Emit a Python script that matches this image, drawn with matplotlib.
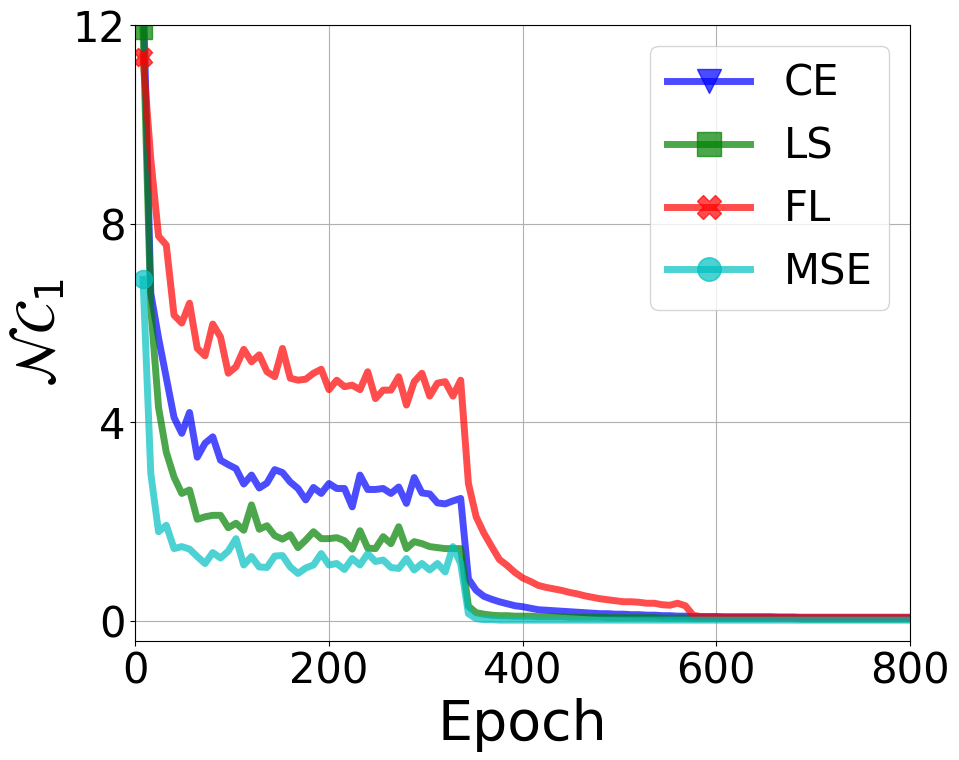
import numpy as np
import matplotlib
matplotlib.use("Agg")
import matplotlib.pyplot as plt

# epochs sampled every 8
epochs = np.arange(8, 808, 8)

ce = [12.8, 6.6, 5.7, 4.9, 4.1, 3.78, 4.2, 3.3, 3.58, 3.71,
      3.24, 3.15, 3.07, 2.76, 2.94, 2.68, 2.78, 3.05, 2.99, 2.80,
      2.67, 2.44, 2.69, 2.57, 2.77, 2.67, 2.67, 2.30, 2.94, 2.65,
      2.65, 2.67, 2.57, 2.70, 2.37, 2.89, 2.58, 2.56, 2.38, 2.36,
      2.42, 2.47, 0.85, 0.62, 0.50, 0.44, 0.39, 0.35, 0.31, 0.29,
      0.26, 0.23, 0.22, 0.21, 0.20, 0.19, 0.18, 0.17, 0.16, 0.15,
      0.15, 0.14, 0.14, 0.13, 0.13, 0.12, 0.12, 0.11, 0.11, 0.10,
      0.10, 0.09, 0.09, 0.09, 0.09, 0.08, 0.08, 0.08, 0.08, 0.08,
      0.08, 0.08, 0.08, 0.08, 0.08, 0.07, 0.07, 0.07, 0.07, 0.07,
      0.07, 0.07, 0.07, 0.07, 0.07, 0.07, 0.07, 0.07, 0.07, 0.07]

ls = [11.9, 6.3, 4.3, 3.4, 2.9, 2.57, 2.64, 2.05, 2.10, 2.13,
      2.13, 1.88, 1.97, 1.83, 2.34, 1.85, 1.92, 1.72, 1.65, 1.74,
      1.48, 1.63, 1.80, 1.66, 1.66, 1.68, 1.62, 1.45, 1.82, 1.47,
      1.46, 1.70, 1.56, 1.90, 1.46, 1.60, 1.56, 1.50, 1.48, 1.46,
      1.46, 1.46, 0.30, 0.17, 0.14, 0.12, 0.11, 0.11, 0.10, 0.10,
      0.10, 0.09, 0.09, 0.09, 0.09, 0.08, 0.08, 0.08, 0.08, 0.08,
      0.07, 0.07, 0.07, 0.07, 0.07, 0.07, 0.07, 0.06, 0.06, 0.06,
      0.06, 0.05, 0.05, 0.05, 0.05, 0.05, 0.05, 0.05, 0.05, 0.05,
      0.05, 0.05, 0.05, 0.05, 0.05, 0.04, 0.04, 0.04, 0.04, 0.04,
      0.04, 0.04, 0.04, 0.04, 0.04, 0.04, 0.04, 0.04, 0.04, 0.04]

fl = [11.36, 9.3, 7.75, 7.57, 6.16, 6.0, 6.4, 5.49, 5.34, 5.98,
      5.72, 4.99, 5.12, 5.47, 5.22, 5.36, 5.02, 4.92, 5.49, 4.89,
      4.85, 4.87, 4.99, 5.07, 4.66, 4.85, 4.72, 4.75, 4.66, 5.02,
      4.48, 4.65, 4.65, 4.92, 4.35, 4.82, 4.99, 4.53, 4.79, 4.82,
      4.53, 4.85, 2.77, 2.10, 1.77, 1.50, 1.24, 1.12, 0.98, 0.87,
      0.80, 0.72, 0.68, 0.65, 0.62, 0.58, 0.55, 0.51, 0.48, 0.45,
      0.43, 0.41, 0.39, 0.39, 0.38, 0.36, 0.36, 0.33, 0.32, 0.36,
      0.31, 0.12, 0.09, 0.09, 0.09, 0.09, 0.09, 0.09, 0.09, 0.09,
      0.09, 0.09, 0.08, 0.08, 0.08, 0.08, 0.08, 0.08, 0.08, 0.08,
      0.08, 0.08, 0.08, 0.08, 0.08, 0.08, 0.08, 0.08, 0.08, 0.08]

mse = [6.88, 2.97, 1.80, 1.93, 1.46, 1.50, 1.45, 1.30, 1.16, 1.38,
       1.27, 1.41, 1.66, 1.13, 1.30, 1.09, 1.08, 1.31, 1.32, 1.09,
       0.96, 1.07, 1.13, 1.36, 1.13, 1.16, 1.04, 1.26, 1.13, 1.36,
       1.20, 1.23, 1.08, 1.06, 1.26, 1.03, 1.16, 1.03, 1.16, 0.99,
       1.50, 1.16, 0.15, 0.05, 0.03, 0.03, 0.02, 0.02, 0.02, 0.02,
       0.02, 0.02, 0.02, 0.02, 0.02, 0.02, 0.02, 0.02, 0.02, 0.02,
       0.02, 0.02, 0.02, 0.02, 0.02, 0.02, 0.02, 0.02, 0.02, 0.02,
       0.02, 0.02, 0.02, 0.02, 0.02, 0.02, 0.02, 0.02, 0.02, 0.02,
       0.02, 0.02, 0.02, 0.02, 0.02, 0.02, 0.02, 0.02, 0.02, 0.02,
       0.02, 0.02, 0.02, 0.02, 0.02, 0.02, 0.02, 0.02, 0.02, 0.02]

labels = ["CE", "LS", "FL", "MSE"]
series = [ce, ls, fl, mse]
colors = ["b", "g", "r", "c"]
markers = ["v", "s", "X", "o"]

fig = plt.figure(figsize=(9.59, 7.6), dpi=100)
ax = fig.add_axes([135.3 / 959, 1 - 641 / 760, (910 - 135.3) / 959, (641 - 25) / 760])

for y, lab, c, m in zip(series, labels, colors, markers):
    ax.plot(epochs, y, color=c, marker=m, markevery=[0], markersize=13,
            linewidth=5, alpha=0.7, label=lab)

ax.set_xlim(0, 800)
ax.set_ylim(-0.4, 12)
ax.set_xticks([0, 200, 400, 600, 800])
ax.set_yticks([0, 4, 8, 12])
ax.tick_params(labelsize=30)
ax.grid(True)
ax.set_xlabel("Epoch", fontsize=40)
ax.set_ylabel(r"$\mathcal{NC}_1$", fontsize=40)
ax.legend(fontsize=30, loc="upper right", markerscale=1.3)

fig.savefig("out.png", dpi=100)
